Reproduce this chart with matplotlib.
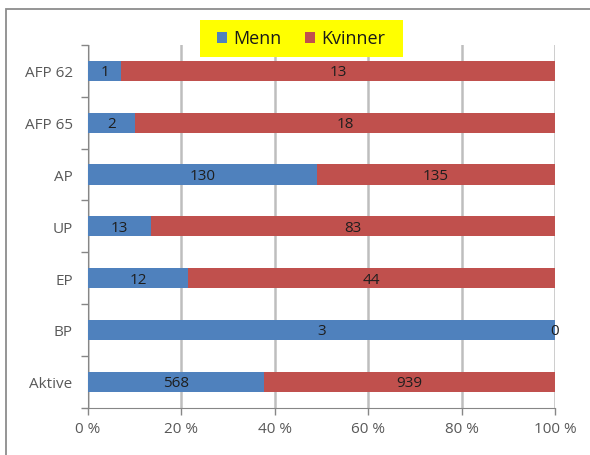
import matplotlib
matplotlib.use("Agg")
import matplotlib.pyplot as plt
from matplotlib.patches import Rectangle, Patch
import numpy as np

categories = ["AFP 62", "AFP 65", "AP", "UP", "EP", "BP", "Aktive"]
menn = [1, 2, 130, 13, 12, 3, 568]
kvinner = [13, 18, 135, 83, 44, 0, 939]
xticks = [0, 20, 40, 60, 80, 100]
xtick_labels = ["0 %", "20 %", "40 %", "60 %", "80 %", "100 %"]

blue = "#4F81BD"
red = "#C0504D"
text_col = "#1E1E1E"
tick_col = "#595959"

plt.rcParams["font.family"] = ["Open Sans", "DejaVu Sans"]

W, H = 590, 456
fig = plt.figure(figsize=(W / 100, H / 100), dpi=100)

# outer chart frame
fig.add_artist(Rectangle((6 / W, -0.1), 1.2, (H - 10) / H + 0.1, transform=fig.transFigure,
                         fill=False, edgecolor="#8C8C8C", linewidth=1.3))

left, right, top, bottom = 88, 555, 46, 408.5
ax = fig.add_axes([left / W, 1 - bottom / H, (right - left) / W, (bottom - top) / H])

m = np.array(menn, dtype=float)
k = np.array(kvinner, dtype=float)
tot = m + k
mp = m / tot * 100
kp = k / tot * 100

y = np.arange(len(categories))
h = 0.39
ax.barh(y, mp, height=h, color=blue, zorder=3)
ax.barh(y, kp, left=mp, height=h, color=red, zorder=3)

for yi, a, b, va, vb in zip(y, mp, kp, menn, kvinner):
    ax.text(a / 2, yi + 0.02, str(va), ha="center", va="center", fontsize=11, color=text_col, zorder=4)
    ax.text(a + b / 2, yi + 0.02, str(vb), ha="center", va="center", fontsize=11, color=text_col, zorder=4)

ax.set_xlim(0, 100)
ax.set_ylim(len(categories) - 0.5, -0.5)
ax.set_xticks(xticks)
ax.set_xticklabels(xtick_labels, fontsize=11, color=tick_col)
ax.set_yticks(y)
ax.set_yticklabels(categories, fontsize=11, color=tick_col)
ax.set_yticks(np.arange(-0.5, len(categories), 1), minor=True)
ax.tick_params(axis="y", which="major", length=0, pad=11)
ax.tick_params(axis="y", which="minor", length=5, color="#868686", width=1)
ax.tick_params(axis="x", length=5, color="#868686", width=1, pad=5)

ax.grid(axis="x", color="#BEBEBE", linewidth=1.8, zorder=0)
for s in ["top", "right"]:
    ax.spines[s].set_visible(False)
ax.spines["left"].set_color("#868686")
ax.spines["bottom"].set_color("#868686")

# yellow legend panel
lx0, lx1, ly0, ly1 = 200, 403, 21, 58
fig.add_artist(Rectangle((lx0 / W, 1 - ly1 / H), (lx1 - lx0) / W, (ly1 - ly0) / H,
                         transform=fig.transFigure, facecolor="#FFFF00", edgecolor="none", zorder=9))

handles = [Patch(facecolor=blue, label="Menn"), Patch(facecolor=red, label="Kvinner")]
leg = fig.legend(handles=handles, loc="center",
                 bbox_to_anchor=((lx0 + lx1) / 2 / W, 1 - (ly0 + ly1) / 2 / H), ncol=2,
                 fontsize=13, frameon=False, handlelength=0.55, handleheight=0.55,
                 handletextpad=0.35, columnspacing=1.3, borderpad=0, borderaxespad=0)
for t in leg.get_texts():
    t.set_color("#1A1A1A")
leg.set_zorder(10)

fig.savefig("out.png", dpi=100)
